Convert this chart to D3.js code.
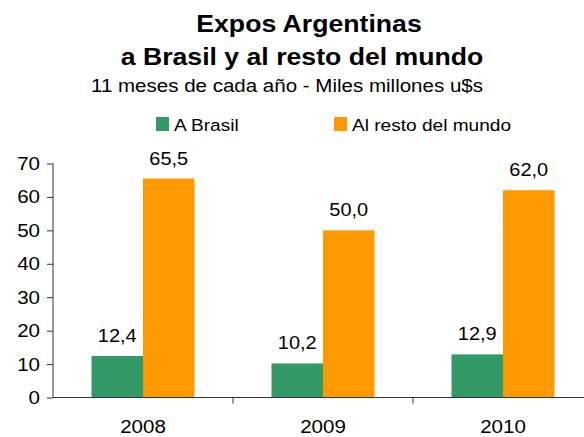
<!DOCTYPE html>
<html>
<head>
<meta charset="utf-8">
<script src="https://cdn.jsdelivr.net/npm/d3@7"></script>
<style>
  body { margin: 0; background: #fff; }
  svg { display: block; font-family: "Liberation Sans", Arial, sans-serif; }
</style>
</head>
<body>
<svg id="canvas" width="584" height="437"></svg>
<script>
// datos
let years = ['2008', '2009', '2010']
let aBrasil = [12.4, 10.2, 12.9]
let restoMundo = [65.5, 50.0, 62.0]
let seriesNames = ['A Brasil', 'Al resto del mundo']
let seriesColors = ['#339966', '#FF9900']
let yTicks = [0, 10, 20, 30, 40, 50, 60, 70]

let canvas = d3.select('#canvas')

// el grafico original esta estirado a lo ancho
let stretch = 1.11

// texto con estiramiento horizontal
let addText = (parent, x, y, txt, size, bold, anchor) => {
    return parent.append('text')
        .attr('transform', 'translate(' + x + ',' + y + ') scale(' + stretch + ',1)')
        .attr('text-anchor', anchor || 'middle')
        .style('font-size', size + 'px')
        .style('font-weight', bold ? 'bold' : 'normal')
        .text(txt)
}

// titulo
addText(canvas, 309, 32, 'Expos Argentinas', 24, true)
addText(canvas, 302, 65, 'a Brasil y al resto del mundo', 24, true)
addText(canvas, 287, 92, '11 meses de cada año - Miles millones u$s', 18.5, false)

// leyenda
let legendX = [156, 334]
seriesNames.forEach((name, i) => {
    canvas.append('rect')
        .attr('x', legendX[i]).attr('y', 117)
        .attr('width', 13).attr('height', 14)
        .attr('fill', seriesColors[i])
    addText(canvas, legendX[i] + 18, 131, name, 17.2, false, 'start')
})

// escalas
let xScale = d3.scaleBand()
    .domain(years)
    .range([53, 593])
    .paddingInner(0).paddingOuter(0)

let yScale = d3.scaleLinear()
    .domain([0, 70])
    .range([397.5, 163.5])

let barW = 51.5

let plot = canvas.append('g')

let groups = plot.selectAll('g.year')
    .data(years)
    .enter()
    .append('g')
    .attr('class', 'year')

groups.append('rect')
    .attr('x', (d) => xScale(d) + xScale.bandwidth() / 2 - barW)
    .attr('y', (d, i) => yScale(aBrasil[i]))
    .attr('width', barW)
    .attr('height', (d, i) => yScale(0) - yScale(aBrasil[i]))
    .attr('fill', seriesColors[0])

groups.append('rect')
    .attr('x', (d) => xScale(d) + xScale.bandwidth() / 2)
    .attr('y', (d, i) => yScale(restoMundo[i]))
    .attr('width', barW)
    .attr('height', (d, i) => yScale(0) - yScale(restoMundo[i]))
    .attr('fill', seriesColors[1])

let fmt = (v) => v.toFixed(1).replace('.', ',')

years.forEach((y, i) => {
    let cx = xScale(y) + xScale.bandwidth() / 2
    addText(plot, cx - barW / 2, yScale(aBrasil[i]) - 14, fmt(aBrasil[i]), 18, false)
    addText(plot, cx + barW / 2, yScale(restoMundo[i]) - 14, fmt(restoMundo[i]), 18, false)
})

// ejes
let yAxis = d3.axisLeft(yScale)
    .tickValues(yTicks)
    .tickSize(6)
    .tickFormat(d3.format('d'))

let yG = canvas.append('g')
    .attr('transform', 'translate(53,0)')
    .call(yAxis)
yG.select('.domain').attr('d', 'M0,' + yScale(70) + 'V' + yScale(0)).attr('stroke', '#333')
yG.selectAll('.tick line').attr('stroke', '#333')
yG.selectAll('.tick text')
    .attr('x', 0)
    .attr('dy', null)
    .attr('transform', 'translate(-13,6) scale(' + stretch + ',1)')
    .style('font-size', '18.5px').attr('fill', '#000')
    .attr('font-family', 'Liberation Sans, Arial, sans-serif')

let xG = canvas.append('g')
    .attr('transform', 'translate(0,' + yScale(0) + ')')
    .call(d3.axisBottom(xScale).tickSize(0))
xG.select('.domain').attr('d', 'M53,0H593').attr('stroke', '#333')
xG.selectAll('.tick text')
    .attr('y', 0)
    .attr('dy', null)
    .attr('transform', 'translate(0,35) scale(' + stretch + ',1)')
    .style('font-size', '18.5px').attr('fill', '#000')
    .attr('font-family', 'Liberation Sans, Arial, sans-serif')

// marcas entre categorias
xG.selectAll('line.sep')
    .data(years.slice(1))
    .enter()
    .append('line')
    .attr('class', 'sep')
    .attr('x1', (d) => xScale(d)).attr('x2', (d) => xScale(d))
    .attr('y1', 0).attr('y2', 6)
    .attr('stroke', '#333')
</script>
</body>
</html>
